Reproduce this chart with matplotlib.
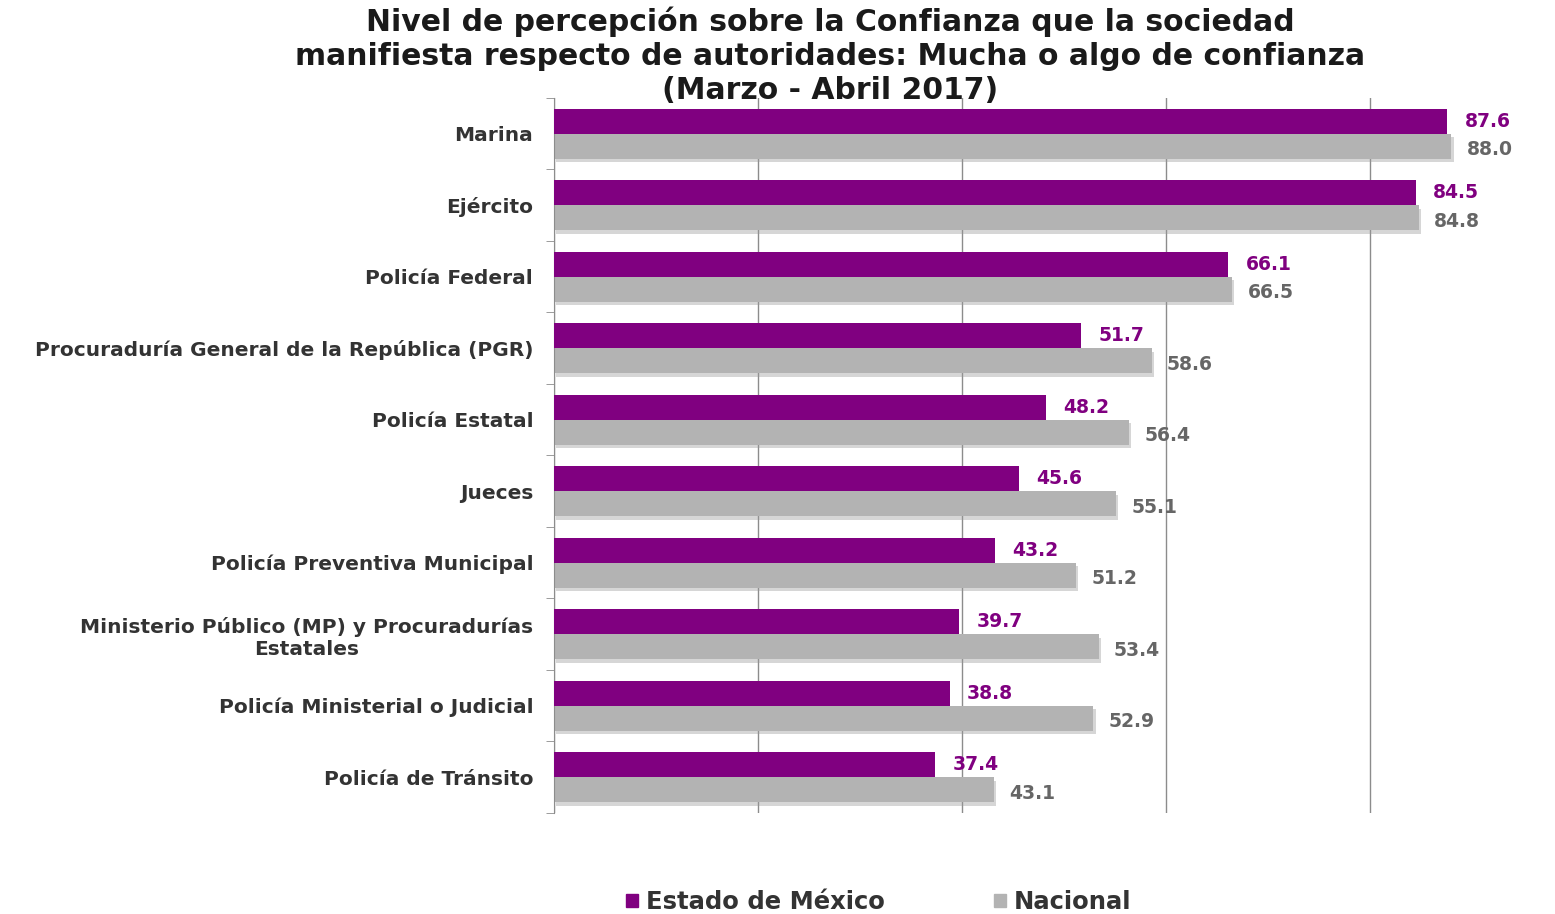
import matplotlib.pyplot as plt
import matplotlib.patheffects as pe
import matplotlib.patches as mpatches
import numpy as np

plt.rcParams['font.family'] = ['DejaVu Sans']

categorias = ['Marina', 'Ejército', 'Policía Federal',
              'Procuraduría General de la República (PGR)', 'Policía Estatal',
              'Jueces', 'Policía Preventiva Municipal',
              'Ministerio Público (MP) y Procuradurías\nEstatales',
              'Policía Ministerial o Judicial', 'Policía de Tránsito']
edomex = [87.6, 84.5, 66.1, 51.7, 48.2, 45.6, 43.2, 39.7, 38.8, 37.4]
nacional = [88.0, 84.8, 66.5, 58.6, 56.4, 55.1, 51.2, 53.4, 52.9, 43.1]

morado = '#800080'
gris = '#b3b3b3'

fig = plt.figure(figsize=(15.55, 9.14), dpi=100)
ax = fig.add_axes([0.3563, 0.1105, 0.6230, 0.7825])

y = np.arange(len(categorias))
h = 0.35
b1 = ax.barh(y - h / 2, edomex, height=h, color=morado, zorder=3)
b2 = ax.barh(y + h / 2, nacional, height=h, color=gris, zorder=2)
# sombra leve bajo las barras grises
for r in b2:
    r.set_path_effects([pe.SimplePatchShadow(offset=(1.5, -2.5), shadow_rgbFace='#999999', alpha=0.4),
                        pe.Normal()])

for i in range(len(categorias)):
    ax.text(edomex[i] + 1.7, y[i] - h / 2, f'{edomex[i]:.1f}', color=morado,
            fontsize=13.5, fontweight='bold', va='center', ha='left', zorder=5)
    ax.text(nacional[i] + 1.5, y[i] + h / 2 + 0.05, f'{nacional[i]:.1f}', color='#666666',
            fontsize=13.5, fontweight='bold', va='center', ha='left', zorder=5)

ax.set_xlim(0, 95)
ax.set_ylim(len(categorias) - 0.5, -0.5)
ax.set_xticks([0, 20, 40, 60, 80])
ax.tick_params(axis='x', length=0, labelbottom=False)
ax.grid(axis='x', color='#8c8c8c', linewidth=1, zorder=0)

ax.set_yticks(y)
ax.set_yticklabels(categorias, fontsize=14.5, color='#333333', fontweight='bold')
for lab in ax.get_yticklabels():
    lab.set_multialignment('center')
ax.tick_params(axis='y', length=0, pad=15)
ax.set_yticks(np.arange(-0.5, len(categorias), 1), minor=True)
ax.tick_params(axis='y', which='minor', length=6, color='#8c8c8c', direction='out')

for s in ['top', 'right', 'bottom']:
    ax.spines[s].set_visible(False)
ax.spines['left'].set_color('#8c8c8c')

fig.text(0.534, 0.993, 'Nivel de percepción sobre la Confianza que la sociedad\n'
         'manifiesta respecto de autoridades: Mucha o algo de confianza\n'
         '(Marzo - Abril 2017)', ha='center', va='top', fontsize=21.5,
         fontweight='bold', color='#1a1a1a', linespacing=1.22)

p1 = mpatches.Patch(color=morado)
p2 = mpatches.Patch(color=gris)
leg = fig.legend([p1, p2], ['Estado de México', 'Nacional'], loc='center',
                 bbox_to_anchor=(0.565, 0.013), ncol=2, frameon=False,
                 prop={'size': 17.5, 'weight': 'bold'}, handlelength=0.5, handleheight=0.5,
                 handletextpad=0.3, columnspacing=4.5)
for t in leg.get_texts():
    t.set_color('#333333')

fig.savefig('out.png', dpi=100)
